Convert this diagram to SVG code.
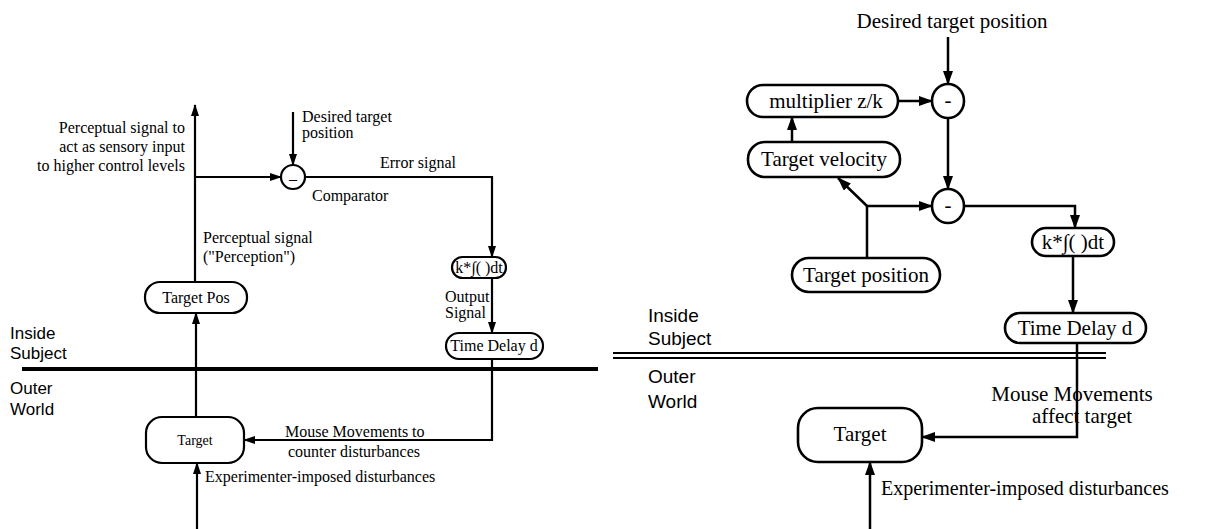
<svg xmlns="http://www.w3.org/2000/svg" width="1208" height="529" viewBox="0 0 1208 529">
<defs>
<marker id="ah" markerWidth="12" markerHeight="8" refX="11" refY="4" orient="auto" markerUnits="userSpaceOnUse"><path d="M0,0 L12,4 L0,8 z" fill="#000"/></marker>
<marker id="ahR" markerWidth="14" markerHeight="10" refX="13" refY="5" orient="auto" markerUnits="userSpaceOnUse"><path d="M0,0 L14,5 L0,10 z" fill="#000"/></marker>
</defs>
<style>
.box{fill:#fff;stroke:#000;stroke-width:2.2}
.rb{fill:#fff;stroke:#000;stroke-width:2.6}
.ln{fill:none;stroke:#000;stroke-width:2.2}
.rl{fill:none;stroke:#000;stroke-width:2.5}
.ser{font-family:"Liberation Serif","Times New Roman",serif;fill:#000}
.l{font-size:16px}
.r{font-size:21px}
.sans{font-family:"Liberation Sans",Arial,sans-serif;fill:#000}
.mid{text-anchor:middle}
.end{text-anchor:end}
</style>
<rect width="1208" height="529" fill="#fff"/>

<!-- LEFT DIAGRAM -->
<g id="left-connectors">
<path class="ln" d="M195,282 V105" marker-end="url(#ah)"/>
<path class="ln" d="M195,177 H281" marker-end="url(#ah)"/>
<path class="ln" d="M293,112 V165" marker-end="url(#ah)"/>
<path class="ln" d="M305,177 H492 V257" marker-end="url(#ah)"/>
<path class="ln" d="M492,278 V333" marker-end="url(#ah)"/>
<path class="ln" d="M492,359 V440 H244" marker-end="url(#ah)"/>
<path class="ln" d="M196,417 V313" marker-end="url(#ah)"/>
<path class="ln" d="M197,529 V463" marker-end="url(#ah)"/>
<path d="M22,369 H598" stroke="#000" stroke-width="4"/>
</g>
<g id="l-comparator">
<circle class="box" cx="293" cy="177" r="12"/>
<text class="ser l mid" x="293" y="184">–</text>
</g>
<g id="l-integrator">
<rect class="box" x="452" y="257" width="54" height="21" rx="10.5"/>
<text class="ser l mid" x="479" y="273">k*∫( )dt</text>
</g>
<g id="l-timedelay">
<rect class="box" x="446" y="333" width="97" height="26" rx="13"/>
<text class="ser l mid" x="494" y="351">Time Delay d</text>
</g>
<g id="l-targetpos">
<rect class="box" x="145" y="282" width="102" height="31" rx="15"/>
<text class="ser l mid" x="196" y="303">Target Pos</text>
</g>
<g id="l-target">
<rect class="box" x="146" y="417" width="98" height="46" rx="16"/>
<text class="ser mid" font-size="14" x="195" y="445">Target</text>
</g>
<g id="left-labels">
<text class="ser l end" x="185" y="133">Perceptual signal to</text>
<text class="ser l end" x="185" y="152">act as sensory input</text>
<text class="ser l end" x="185" y="171">to higher control levels</text>
<text class="ser l" x="302" y="122">Desired target</text>
<text class="ser l" x="302" y="138">position</text>
<text class="ser l" x="380" y="168">Error signal</text>
<text class="ser l" x="312" y="201">Comparator</text>
<text class="ser l" x="203" y="243">Perceptual signal</text>
<text class="ser l" x="203" y="262">("Perception")</text>
<text class="ser l" x="445" y="302">Output</text>
<text class="ser l" x="445" y="318">Signal</text>
<text class="ser l" x="285" y="437">Mouse Movements to</text>
<text class="ser l" x="288" y="457">counter disturbances</text>
<text class="ser l" x="205" y="482">Experimenter-imposed disturbances</text>
<text class="sans" font-size="17" x="10" y="339">Inside</text>
<text class="sans" font-size="17" x="10" y="359">Subject</text>
<text class="sans" font-size="17" x="10" y="394">Outer</text>
<text class="sans" font-size="17" x="10" y="415">World</text>
</g>

<!-- RIGHT DIAGRAM -->
<g id="right-connectors">
<path class="rl" d="M948,37 V84" marker-end="url(#ahR)"/>
<path class="rl" d="M898,101 H932" marker-end="url(#ahR)"/>
<path class="rl" d="M792,142 V117" marker-end="url(#ahR)"/>
<path class="rl" d="M948,118 V189" marker-end="url(#ahR)"/>
<path class="rl" d="M867,258 V206 H932" marker-end="url(#ahR)"/>
<path class="rl" d="M867,206 L838,178" marker-end="url(#ahR)"/>
<path class="rl" d="M964,206 H1075 V228" marker-end="url(#ahR)"/>
<path class="rl" d="M1073,256 V313" marker-end="url(#ahR)"/>
<path class="rl" d="M1077,343 V437 H922" marker-end="url(#ahR)"/>
<path class="rl" d="M870,529 V462" marker-end="url(#ahR)"/>
<path d="M613,353 H1106 M613,358 H1106" stroke="#000" stroke-width="2"/>
</g>
<g id="r-sum1">
<ellipse class="rb" cx="948" cy="101" rx="16" ry="17"/>
<text class="ser r mid" x="948" y="107">-</text>
</g>
<g id="r-sum2">
<ellipse class="rb" cx="948" cy="206" rx="16" ry="17"/>
<text class="ser r mid" x="948" y="212">-</text>
</g>
<g id="r-multiplier">
<rect class="rb" x="747" y="85" width="151" height="32" rx="16"/>
<text class="ser r mid" x="826" y="108">multiplier z/k</text>
</g>
<g id="r-velocity">
<rect class="rb" x="748" y="142" width="152" height="35" rx="17"/>
<text class="ser r mid" x="824" y="166">Target velocity</text>
</g>
<g id="r-targetpos">
<rect class="rb" x="792" y="258" width="148" height="34" rx="17"/>
<text class="ser r mid" x="866" y="282">Target position</text>
</g>
<g id="r-integrator">
<rect class="rb" x="1032" y="228" width="82" height="28" rx="14"/>
<text class="ser r mid" x="1073" y="249">k*∫( )dt</text>
</g>
<g id="r-timedelay">
<rect class="rb" x="1005" y="313" width="141" height="30" rx="15"/>
<text class="ser r mid" x="1075" y="335">Time Delay d</text>
</g>
<g id="r-target">
<rect class="rb" x="798" y="408" width="124" height="54" rx="20"/>
<text class="ser r mid" x="860" y="441">Target</text>
</g>
<g id="right-labels">
<text class="ser r mid" x="952" y="28">Desired target position</text>
<text class="ser r mid" x="1072" y="401">Mouse Movements</text>
<text class="ser r mid" x="1082" y="423">affect target</text>
<text class="ser" font-size="20" x="881" y="495">Experimenter-imposed disturbances</text>
<text class="sans" font-size="19" x="648" y="322">Inside</text>
<text class="sans" font-size="19" x="648" y="345">Subject</text>
<text class="sans" font-size="19" x="648" y="383">Outer</text>
<text class="sans" font-size="19" x="648" y="408">World</text>
</g>
</svg>
